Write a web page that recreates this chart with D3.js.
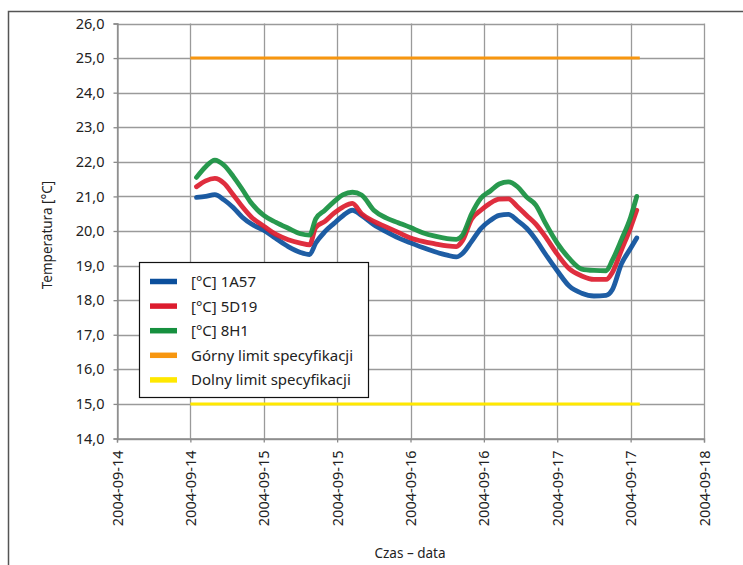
<!DOCTYPE html>
<html>
<head>
<meta charset="utf-8">
<script src="https://cdn.jsdelivr.net/npm/d3@7"></script>
<style>
  body { margin: 0; background: #fff; }
  svg { display: block; font-family: "Noto Sans", sans-serif; }
</style>
</head>
<body>
<svg id="chart" width="743" height="565"></svg>
<script>
// hours counted from 2004-09-14 00:00
const hours = [13, 14.5, 16, 17.5, 19, 20.5, 22, 24, 26, 28, 30, 31.5, 32.5, 34, 35.5, 37, 38.5, 40,
  42, 44, 46, 48, 50, 52, 54, 55.5, 56.5, 58, 59.5, 61, 62.5, 64, 65.5, 67, 68.5, 70,
  72, 74, 76, 78, 80, 81, 82.5, 84, 85];
const s1A57 = [20.97, 21.0, 21.05, 20.9, 20.68, 20.4, 20.2, 20.02, 19.78, 19.55, 19.38, 19.32, 19.65, 19.98, 20.22, 20.45, 20.6, 20.45,
  20.18, 19.98, 19.8, 19.66, 19.52, 19.4, 19.3, 19.25, 19.35, 19.7, 20.07, 20.3, 20.45, 20.48, 20.3, 20.08, 19.75, 19.35,
  18.85, 18.4, 18.2, 18.12, 18.14, 18.3, 19.05, 19.5, 19.8];
const s5D19 = [21.28, 21.45, 21.52, 21.38, 21.05, 20.7, 20.4, 20.14, 19.9, 19.75, 19.65, 19.6, 20.1, 20.28, 20.52, 20.7, 20.8, 20.5,
  20.28, 20.12, 19.96, 19.8, 19.7, 19.63, 19.57, 19.55, 19.72, 20.35, 20.6, 20.8, 20.92, 20.93, 20.7, 20.45, 20.2, 19.85,
  19.33, 18.9, 18.7, 18.6, 18.6, 18.8, 19.45, 20.1, 20.6];
const s8H1 = [21.55, 21.86, 22.05, 21.9, 21.58, 21.2, 20.8, 20.45, 20.25, 20.08, 19.92, 19.88, 20.35, 20.6, 20.85, 21.05, 21.12, 21.04,
  20.6, 20.38, 20.24, 20.1, 19.95, 19.85, 19.78, 19.76, 19.88, 20.5, 20.95, 21.15, 21.36, 21.42, 21.28, 20.98, 20.75, 20.25,
  19.65, 19.2, 18.9, 18.86, 18.85, 19.15, 19.75, 20.4, 21.0];
const limitHours = [12, 85.5];
const upperLimit = 25.0;
const lowerLimit = 15.0;
const yTicks = [14, 15, 16, 17, 18, 19, 20, 21, 22, 23, 24, 25, 26];
const xTicks = ['2004-09-14 00:00', '2004-09-14 12:00', '2004-09-15 00:00', '2004-09-15 12:00',
  '2004-09-16 00:00', '2004-09-16 12:00', '2004-09-17 00:00', '2004-09-17 12:00', '2004-09-18 00:00'];
const seriesNames = ['[°C] 1A57', '[°C] 5D19', '[°C] 8H1', 'Górny limit specyfikacji', 'Dolny limit specyfikacji'];
const colors = ['#0b4f9c', '#dc1c2e', '#16903f', '#f7960f', '#ffe800'];

const parse = d3.timeParse('%Y-%m-%d %H:%M');
const t0 = parse(xTicks[0]);
const toDate = h => new Date(t0.getTime() + h * 3600e3);

const svg = d3.select('#chart');
const pLeft = 117, pRight = 704, pTop = 23.5, pBottom = 438.5;

const x = d3.scaleTime().domain([t0, parse(xTicks[xTicks.length - 1])]).range([pLeft, pRight]);
const y = d3.scaleLinear().domain([14, 26]).range([pBottom, pTop]);

// outer frame (cut by the window)
svg.append('path').attr('d', 'M8.5,566 V11.5 H744')
  .attr('fill', 'none').attr('stroke', '#555').attr('stroke-width', 1.5);

// grid
const grid = svg.append('g').attr('stroke', '#9a9a9a').attr('stroke-width', 1.3);
grid.selectAll('.gy').data(yTicks).join('line')
  .attr('x1', pLeft).attr('x2', pRight)
  .attr('y1', d => Math.round(y(d)) + 0.5).attr('y2', d => Math.round(y(d)) + 0.5);
grid.selectAll('.gx').data(xTicks.map(parse)).join('line')
  .attr('x1', d => Math.round(x(d)) + 0.5).attr('x2', d => Math.round(x(d)) + 0.5)
  .attr('y1', pTop).attr('y2', pBottom);

const fmt = v => d3.format('.1f')(v).replace('.', ',');

const yAxis = svg.append('g').attr('transform', `translate(${pLeft + 0.5},0)`)
  .call(d3.axisLeft(y).tickValues(yTicks).tickFormat(fmt).tickSize(4).tickPadding(9));
const xAxis = svg.append('g').attr('transform', `translate(0,${pBottom})`)
  .call(d3.axisBottom(x).tickValues(xTicks.map(parse)).tickFormat(d3.timeFormat('%Y-%m-%d')).tickSize(4));
[yAxis, xAxis].forEach(a => {
  a.select('.domain').attr('stroke', '#8a8a8a').attr('stroke-width', 1.3);
  a.selectAll('.tick line').attr('stroke', '#8a8a8a').attr('stroke-width', 1.3);
  a.selectAll('text').attr('fill', '#222').style('font-size', '14.5px').style('font-family', '"Noto Sans", sans-serif');
});
xAxis.selectAll('.tick text')
  .attr('transform', 'rotate(-90)')
  .attr('text-anchor', 'end')
  .attr('x', -12).attr('y', 0).attr('dy', '0.35em');

// limit lines
const limitLine = d3.line().x(d => x(toDate(d[0]))).y(d => y(d[1]));
svg.append('path').datum(limitHours.map(h => [h, upperLimit]))
  .attr('d', limitLine).attr('fill', 'none').attr('stroke', colors[3]).attr('stroke-width', 3);
svg.append('path').datum(limitHours.map(h => [h, lowerLimit]))
  .attr('d', limitLine).attr('fill', 'none').attr('stroke', colors[4]).attr('stroke-width', 3);

// series
const line = d3.line().curve(d3.curveMonotoneX).x(d => x(toDate(d[0]))).y(d => y(d[1]));
[s1A57, s5D19, s8H1].forEach((s, i) => {
  svg.append('path').datum(hours.map((h, j) => [h, s[j]]))
    .attr('d', line).attr('fill', 'none')
    .attr('stroke', colors[i]).attr('stroke-width', 4.8)
    .attr('stroke-linecap', 'round').attr('stroke-linejoin', 'round')
    .attr('opacity', 0.92);
});

// legend
const lg = svg.append('g');
lg.append('rect').attr('x', 139.5).attr('y', 262.5).attr('width', 229).attr('height', 135)
  .attr('fill', '#fff').attr('stroke', '#111').attr('stroke-width', 1.2);
seriesNames.forEach((n, i) => {
  const yy = 281.5 + i * 24.6;
  lg.append('line').attr('x1', 150).attr('x2', 177).attr('y1', yy).attr('y2', yy)
    .attr('stroke', colors[i]).attr('stroke-width', 5.5);
  lg.append('text').attr('x', 191).attr('y', yy).attr('dy', '0.36em')
    .attr('fill', '#222').style('font-size', '15px').text(n);
});

// axis titles
svg.append('text').attr('transform', 'translate(51.5,235) rotate(-90)')
  .attr('text-anchor', 'middle').attr('fill', '#222').style('font-size', '13.5px')
  .text('Temperatura [°C]');
svg.append('text').attr('x', 410).attr('y', 558)
  .attr('text-anchor', 'middle').attr('fill', '#222').style('font-size', '13.5px')
  .text('Czas – data');
</script>
</body>
</html>
